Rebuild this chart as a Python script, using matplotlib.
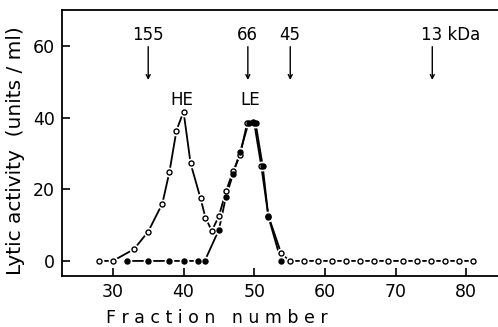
import matplotlib
matplotlib.use('Agg')
import matplotlib.pyplot as plt

# open circles (HE + LE)
open_x = [28, 30, 33, 35, 37, 38, 39, 40, 41, 42.4, 43.1, 44, 45, 46, 47, 48, 49, 50, 51, 52, 53.8,
          55, 57, 59, 61, 63, 65, 67, 69, 71, 73, 75, 77, 79, 81]
open_y = [0, 0, 3.3, 8.2, 16, 24.8, 36.4, 41.7, 27.2, 17.5, 12.1, 8.4, 12.5, 19.4, 25, 29.5, 38.5, 38.5, 26.5, 12.6, 2.2,
          0, 0, 0, 0, 0, 0, 0, 0, 0, 0, 0, 0, 0, 0]

# filled circles (LE)
filled_x = [32, 35, 38, 40, 42, 43, 45, 46, 47, 48, 49.2, 49.8, 50.2, 51.2, 52, 53.8]
filled_y = [0, 0, 0, 0, 0, 0, 8.7, 17.9, 24.2, 30.4, 38.5, 38.8, 38.4, 26.5, 12.4, 0]

# molecular weight markers
marker_pos = [35, 49.1, 55.1, 75.2]
marker_lbl = ['155', '66', '45', '13']

plt.rcParams['font.family'] = 'DejaVu Sans'
fig = plt.figure(figsize=(4.98, 3.27), dpi=100)
ax = fig.add_axes([0.1245, 0.156, 0.8755, 0.813])

for xs, ys, face in [(open_x, open_y, 'white'), (filled_x, filled_y, 'black')]:
    ax.plot(xs, ys, color='black', lw=1.3, zorder=2)
    ax.plot(xs, ys, 'o', ms=6, mfc='white', mec='white', zorder=3)
    ax.plot(xs, ys, 'o', ms=3.6, mfc=face, mec='black', mew=1.0, zorder=4)

for x, lbl in zip(marker_pos, marker_lbl):
    ax.annotate('', xy=(x, 50.5), xytext=(x, 59.8),
                arrowprops=dict(arrowstyle='->', color='black', lw=1.0,
                                mutation_scale=7, shrinkA=0, shrinkB=0))
    if lbl == '13':
        ax.text(x - 1.55, 63, '13 kDa', ha='left', va='center', fontsize=12)
    else:
        ax.text(x, 63, lbl, ha='center', va='center', fontsize=12)

ax.text(39.8, 45, 'HE', ha='center', va='center', fontsize=12)
ax.text(49.5, 45, 'LE', ha='center', va='center', fontsize=12)

ax.set_xlim(22.8, 84.5)
ax.set_ylim(-4.2, 70)
ax.set_xticks([30, 40, 50, 60, 70, 80])
ax.set_yticks([0, 20, 40, 60])
ax.tick_params(direction='in', length=6, width=1.2, labelsize=12.5, pad=5)
ax.spines['right'].set_visible(False)
for s in ['top', 'left', 'bottom']:
    ax.spines[s].set_linewidth(1.3)

ax.set_xlabel('F r a c t i o n   n u m b e r', fontsize=12.5)
ax.set_ylabel('Lytic activity  (units / ml)', fontsize=14.5)
ax.xaxis.set_label_coords(0.355, -0.125)
ax.yaxis.set_label_coords(-0.085, 0.47)

fig.savefig('out.png', dpi=100)
